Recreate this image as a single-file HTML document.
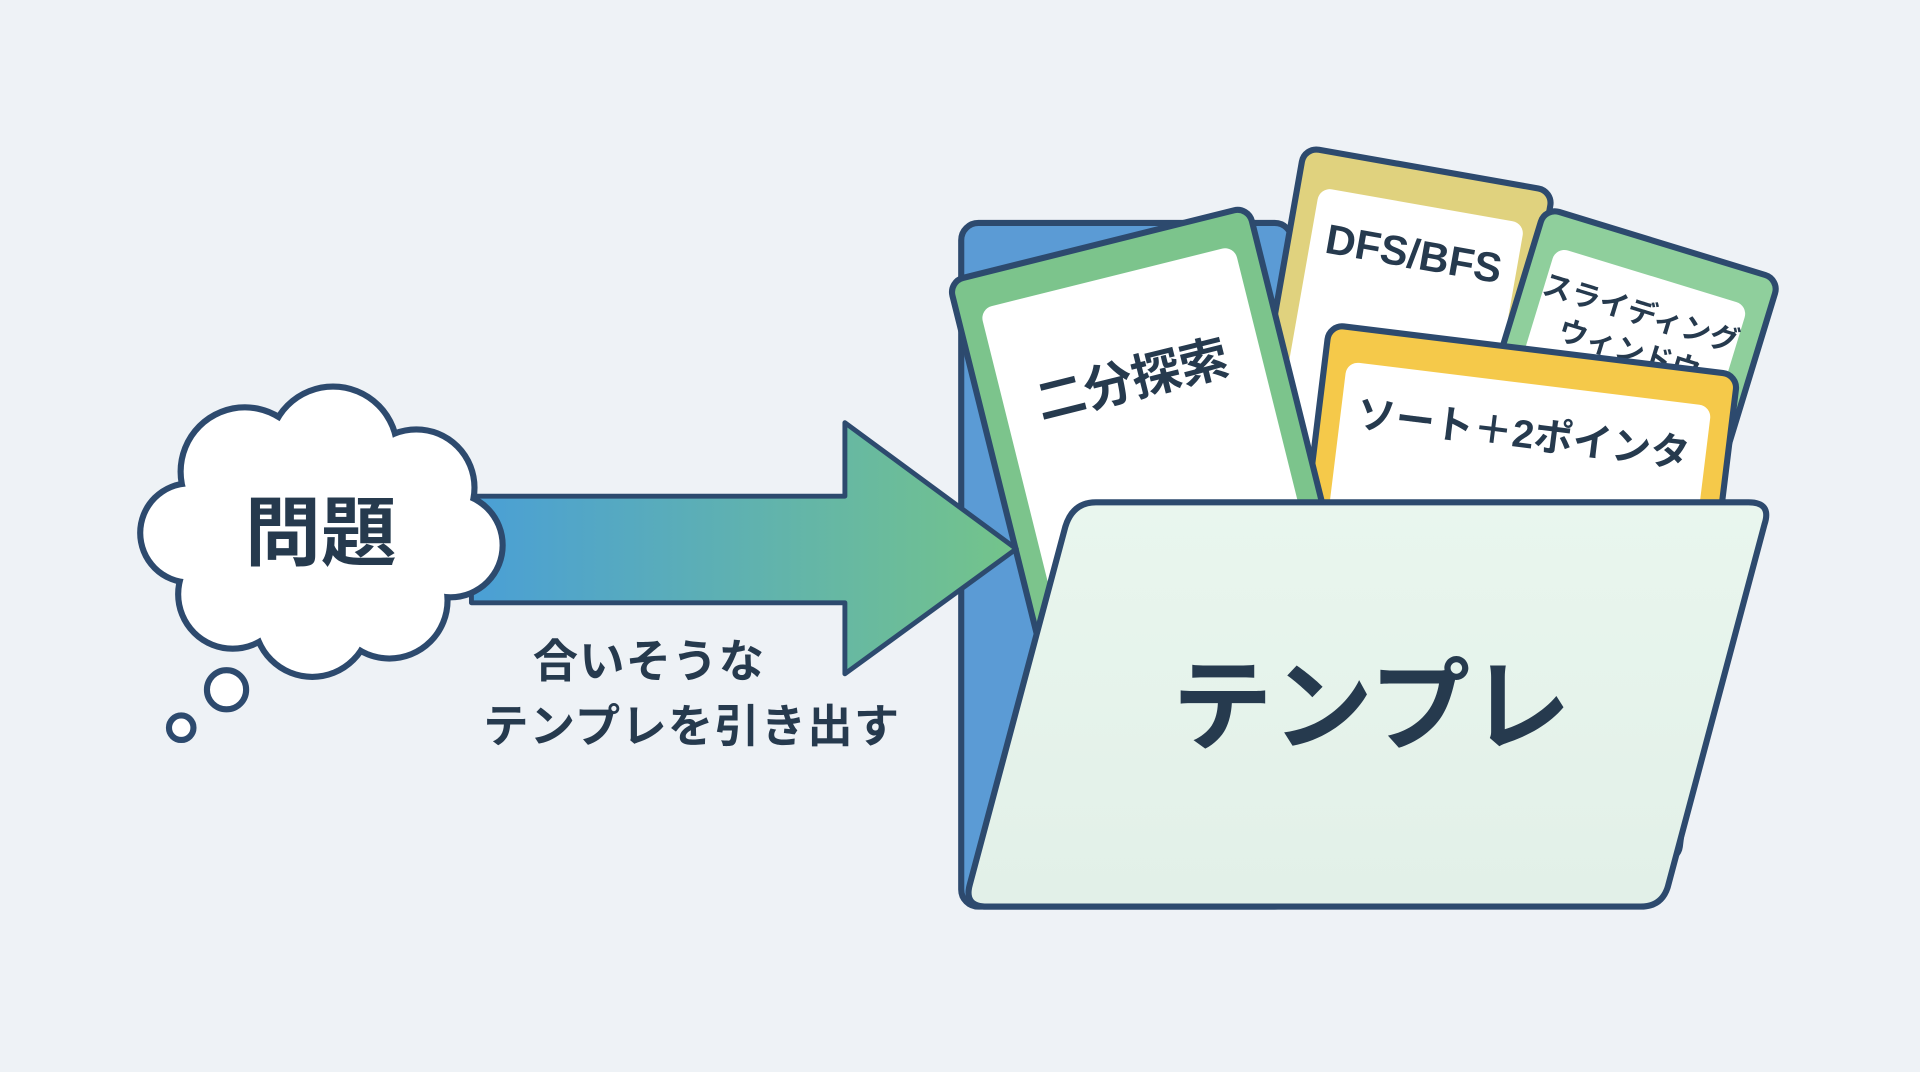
<!DOCTYPE html>
<html><head><meta charset="utf-8"><style>
html,body{margin:0;padding:0;background:#eef2f6;}
svg{display:block}
text{font-family:"Liberation Sans","Noto Sans CJK JP",sans-serif;font-weight:bold;fill:#263a4e;text-anchor:middle;dominant-baseline:central}
</style></head><body>
<svg width="1920" height="1072" viewBox="0 0 1568 875" preserveAspectRatio="none" xmlns="http://www.w3.org/2000/svg">
<defs>
<linearGradient id="ag" x1="385" y1="0" x2="830" y2="0" gradientUnits="userSpaceOnUse">
<stop offset="0" stop-color="#4a9fd6"/><stop offset="1" stop-color="#74c48a"/></linearGradient>
<linearGradient id="fg" x1="0" y1="0" x2="0" y2="1">
<stop offset="0" stop-color="#e9f6ee"/><stop offset="1" stop-color="#e2f0e8"/></linearGradient>
</defs>
<rect width="1568" height="875" fill="#eef2f6"/>
<!-- folder back -->
<rect x="785" y="182" width="270" height="558" rx="14" fill="#5b9bd5" stroke="#2d4a6e" stroke-width="5"/>
<!-- cards -->
<g transform="translate(1132,335) rotate(10)">
<rect x="-103" y="-200" width="206" height="400" rx="12" fill="#e0d27e" stroke="#2d4a6e" stroke-width="5"/>
<rect x="-85" y="-170" width="170" height="360" rx="10" fill="#fff"/>
<text x="0" y="-130" font-size="34">DFS/BFS</text></g>
<g transform="translate(1299,390) rotate(17)">
<rect x="-100" y="-200" width="200" height="400" rx="12" fill="#8fcf9c" stroke="#2d4a6e" stroke-width="5"/>
<rect x="-82" y="-172" width="164" height="360" rx="10" fill="#fff"/>
<text x="0" y="-140" font-size="24">スライディング</text>
<text x="0" y="-108" font-size="24">ウィンドウ</text></g>
<g transform="translate(1228,484) rotate(7)">
<rect x="-168" y="-200" width="336" height="400" rx="12" fill="#f5c94a" stroke="#2d4a6e" stroke-width="5"/>
<rect x="-150" y="-172" width="300" height="360" rx="10" fill="#fff"/>
<text x="0" y="-130" font-size="32">ソート＋2ポインタ</text></g>
<g transform="translate(948,403) rotate(-14)">
<rect x="-126" y="-210" width="252" height="420" rx="12" fill="#7cc48c" stroke="#2d4a6e" stroke-width="5"/>
<rect x="-107" y="-182" width="214" height="380" rx="10" fill="#fff"/>
<text x="0" y="-95" font-size="40">二分探索</text></g>
<!-- arrow -->
<polygon points="385,405 690,405 690,345 830,448 690,550 690,492 385,492" fill="url(#ag)" stroke="#2d4a6e" stroke-width="4" stroke-linejoin="round"/>
<!-- cloud -->
<g stroke="#2d4a6e" stroke-width="10" fill="#2d4a6e">
<circle cx="200" cy="385" r="50"/><circle cx="272" cy="368" r="50"/><circle cx="340" cy="398" r="45"/><circle cx="368" cy="445" r="40"/><circle cx="318" cy="490" r="45"/><circle cx="255" cy="505" r="45"/><circle cx="190" cy="485" r="42"/><circle cx="155" cy="435" r="38"/><circle cx="260" cy="440" r="85"/>
</g>
<g fill="#fff">
<circle cx="200" cy="385" r="50"/><circle cx="272" cy="368" r="50"/><circle cx="340" cy="398" r="45"/><circle cx="368" cy="445" r="40"/><circle cx="318" cy="490" r="45"/><circle cx="255" cy="505" r="45"/><circle cx="190" cy="485" r="42"/><circle cx="155" cy="435" r="38"/><circle cx="260" cy="440" r="85"/>
</g>
<circle cx="185" cy="563" r="16" fill="#fff" stroke="#2d4a6e" stroke-width="5"/>
<circle cx="148" cy="594" r="10" fill="#fff" stroke="#2d4a6e" stroke-width="5"/>
<text x="262" y="436" font-size="62">問題</text>
<text x="530" y="540" font-size="37" letter-spacing="1">合いそうな</text>
<text x="565" y="593" font-size="37" letter-spacing="1">テンプレを引き出す</text>
<!-- folder front -->
<path d="M895 410 L1428 410 Q1447 410 1441 428 L1362 724 Q1357 740 1340 740 L806 740 Q787 740 792 722 L870 430 Q876 410 895 410 Z" fill="url(#fg)" stroke="#2d4a6e" stroke-width="5" stroke-linejoin="round"/>
<text x="1120" y="578" font-size="82">テンプレ</text>
</svg>
</body></html>
